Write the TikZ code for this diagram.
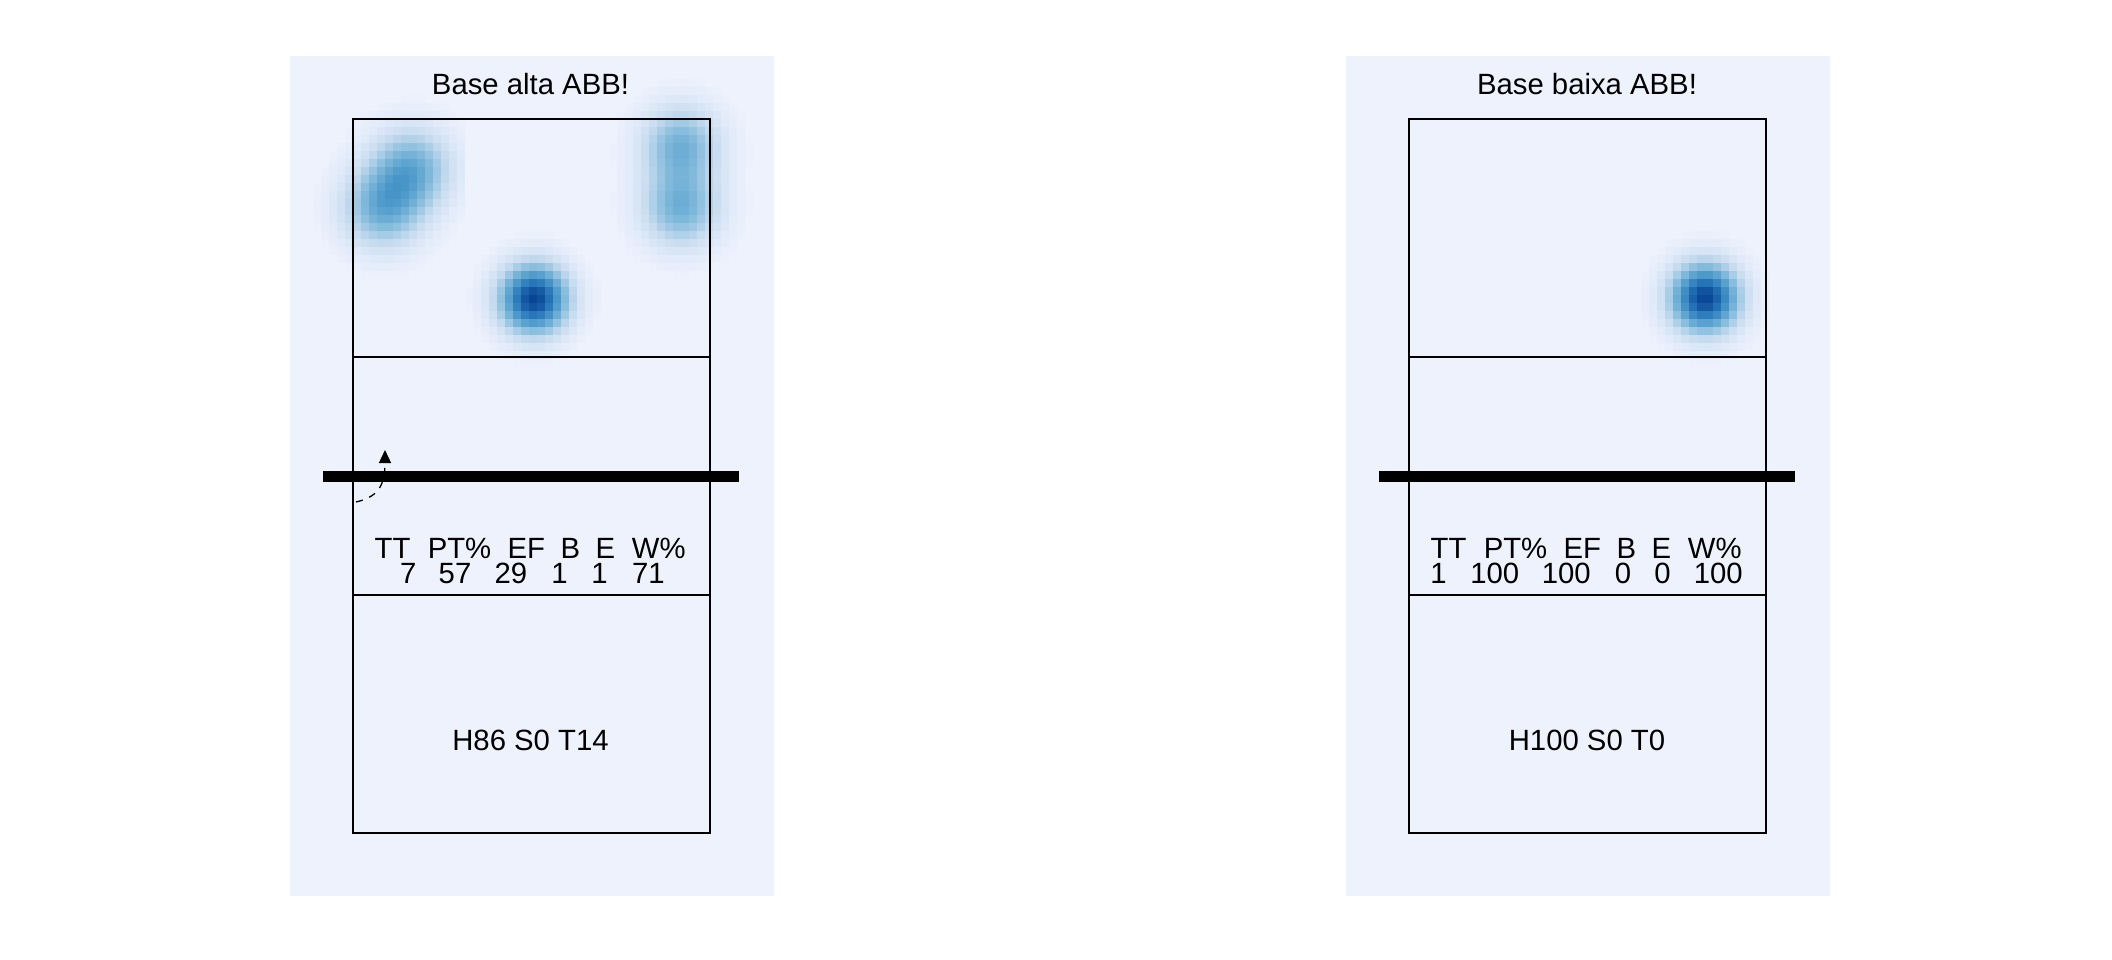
\documentclass[tikz,border=0pt]{standalone}
\usepackage{fontspec}
\setmainfont{Liberation Sans}
\usetikzlibrary{arrows.meta}
\definecolor{panelbg}{RGB}{238,242,253}
\definecolor{hs0}{RGB}{238,242,253}
\definecolor{hs1}{RGB}{198,219,239}
\definecolor{hs2}{RGB}{130,186,219}
\definecolor{hs3}{RGB}{75,152,202}
\definecolor{hs4}{RGB}{37,115,183}
\definecolor{hs5}{RGB}{8,69,148}
\definecolor{hs6}{RGB}{8,69,148}
\tikzset{
  panel/.style={fill=panelbg, draw=none},
  court/.style={draw=black, line width=1.7pt},
  netline/.style={draw=black, line width=11pt},
  lbl/.style={inner sep=0pt, anchor=base, font=\fontsize{29.3}{30}\selectfont},
  attackarrow/.style={draw=black, line width=1.3pt, dash pattern=on 7pt off 7pt,
    -{Triangle[length=13pt,width=12pt]}},
}
\newcommand\heatbox[3]{%
  \foreach \hx in {#1}{%
    \foreach \hy in {#2}{%
      \pgfmathsetmacro\hd{min(#3,0.999)}%
      \ifdim\hd pt>0.015pt
        \pgfmathtruncatemacro\hk{floor(\hd*5)}%
        \pgfmathtruncatemacro\hp{(\hd*5-\hk)*100}%
        \pgfmathtruncatemacro\hn{\hk+1}%
        \colorlet{hc}{hs\hn!\hp!hs\hk}%
        \fill[hc] (\hx,\hy) rectangle ++(8.3,8.3);%
      \fi
    }}}
\begin{document}
\begin{tikzpicture}[x=1pt,y=-1pt,
  declare function={g(\u,\v)=exp(max(-0.5*(\u*\u+\v*\v),-9));}]
\useasboundingbox (0,0) rectangle (2112,960);
% panels
\fill[panel] (290,56) rectangle (774,896);
\fill[panel] (1346,56) rectangle (1830,896);
% heat maps, left panel
\heatbox{305,313,...,457}{87,95,...,287}{0.47*g((\hx+4-411)/27,(\hy+4-169)/27)+0.47*g((\hx+4-383)/27,(\hy+4-208)/27)}
\heatbox{609,617,...,753}{71,79,...,295}{0.45*g((\hx+4-681)/26,(\hy+4-146)/26)+0.45*g((\hx+4-681)/26,(\hy+4-208)/26)}
\heatbox{465,473,...,601}{231,239,...,367}{g((\hx+4-534)/23,(\hy+4-299)/23)}
% heat map, right panel
\heatbox{1633,1641,...,1769}{231,239,...,367}{g((\hx+4-1705)/23,(\hy+4-298)/23)}
% courts
\draw[court] (353,119) rectangle (710,833);
\draw[court] (353,357) -- (710,357);
\draw[court] (353,595) -- (710,595);
\draw[court] (1409,119) rectangle (1766,833);
\draw[court] (1409,357) -- (1766,357);
\draw[court] (1409,595) -- (1766,595);
% nets
\draw[netline] (323,476.5) -- (739,476.5);
\draw[netline] (1379,476.5) -- (1795,476.5);
% attack arrow
\coordinate (arrS) at (356,502);
\coordinate (arrE) at (385,450);
\draw[attackarrow] (arrS) .. controls (377,497) and (385,487) .. (arrE);
% left texts
\node[lbl] (tl) at (530.5,94.3) {Base alta ABB!};
\node[lbl] (hl1) at (392.5,558.3) {TT};
\node[lbl] (hl2) at (459.5,558.3) {PT\%};
\node[lbl] (hl3) at (526.3,558.3) {EF};
\node[lbl] (hl4) at (570.3,558.3) {B};
\node[lbl] (hl5) at (605.5,558.3) {E};
\node[lbl] (hl6) at (658.8,558.3) {W\%};
\node[lbl] (nl1) at (408.3,583.3) {7};
\node[lbl] (nl2) at (455,583.3) {57};
\node[lbl] (nl3) at (510.8,583.3) {29};
\node[lbl] (nl4) at (559.4,583.3) {1};
\node[lbl] (nl5) at (599.4,583.3) {1};
\node[lbl] (nl6) at (648.3,583.3) {71};
\node[lbl] (bl) at (530.5,750) {H86 S0 T14};
% right texts
\node[lbl] (tr) at (1587,94.3) {Base baixa ABB!};
\node[lbl] (hr1) at (1448.5,558.3) {TT};
\node[lbl] (hr2) at (1515.5,558.3) {PT\%};
\node[lbl] (hr3) at (1582.3,558.3) {EF};
\node[lbl] (hr4) at (1626.3,558.3) {B};
\node[lbl] (hr5) at (1661.5,558.3) {E};
\node[lbl] (hr6) at (1714.8,558.3) {W\%};
\node[lbl] (nr1) at (1438.6,583.3) {1};
\node[lbl] (nr2) at (1494.8,583.3) {100};
\node[lbl] (nr3) at (1566.2,583.3) {100};
\node[lbl] (nr4) at (1623,583.3) {0};
\node[lbl] (nr5) at (1662.5,583.3) {0};
\node[lbl] (nr6) at (1718.2,583.3) {100};
\node[lbl] (br) at (1587,750) {H100 S0 T0};
\end{tikzpicture}
\end{document}
